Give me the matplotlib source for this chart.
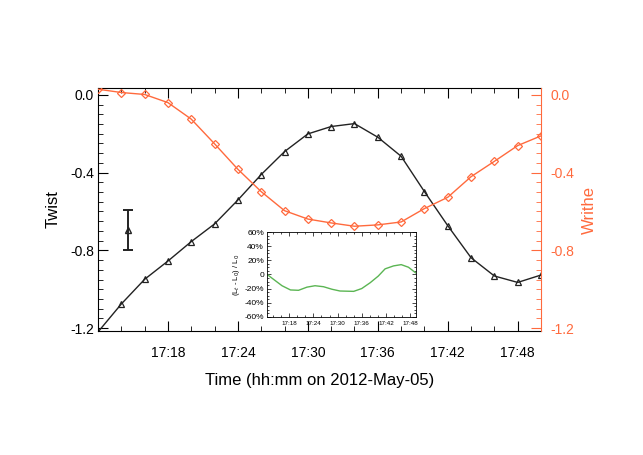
import numpy as np
import matplotlib.pyplot as plt
from matplotlib.ticker import MultipleLocator, FuncFormatter

plt.rcParams['font.family'] = ['Liberation Sans', 'DejaVu Sans']

# tiempos (minutos después de las 17:00), cada 2 minutos
tiempos = [12, 14, 16, 18, 20, 22, 24, 26, 28, 30, 32, 34, 36, 38, 40, 42, 44, 46, 48, 50]
twist = [-1.22, -1.076, -0.949, -0.855, -0.755, -0.664, -0.541, -0.410, -0.292, -0.201,
         -0.163, -0.148, -0.218, -0.316, -0.498, -0.673, -0.838, -0.932, -0.965, -0.927]
writhe = [0.029, 0.012, 0.002, -0.040, -0.125, -0.252, -0.383, -0.498, -0.596, -0.639,
          -0.659, -0.676, -0.669, -0.654, -0.585, -0.527, -0.421, -0.342, -0.261, -0.211]

# barra de error típica
err_t = 14.55
err_v = -0.694
err_e = 0.104

# curva del recuadro: (Lt - L0) / L0 en %
ins_t = [12.5, 16.2, 18.3, 20.3, 22.4, 24.4, 26.5, 28.6, 30.6, 34.0, 36.0, 38.1, 40.1,
         41.8, 43.9, 45.8, 47.6, 49.4]
ins_v = [0, -16, -22, -22.5, -18, -16, -17.4, -21, -23.5, -24, -20, -11.7, -2.3,
         8, 12.2, 14, 10.3, 2.3]

naranja = '#FF6A3D'
verde = '#5BB553'


def hhmm(x, pos=None):
    return "17:%02d" % int(round(x))


fig = plt.figure(figsize=(6.43, 4.55), dpi=100)
ax = fig.add_axes([0.1524, 0.2725, 0.689, 0.534])

ax.plot(tiempos, twist, color='#222222', lw=1, marker='^', ms=5,
        mfc='none', mec='#222222', mew=0.9, clip_on=True)
ax.errorbar([err_t], [err_v], yerr=[err_e], color='#222222', marker='^', ms=5,
            mfc='none', capsize=3.5, elinewidth=1.4, capthick=1.4)

ax.set_xlim(12, 50)
ax.set_ylim(-1.215, 0.035)
ax.xaxis.set_major_locator(MultipleLocator(6))
ax.xaxis.set_minor_locator(MultipleLocator(2))
ax.xaxis.set_major_formatter(FuncFormatter(hhmm))
ax.set_xticks([18, 24, 30, 36, 42, 48])
ax.yaxis.set_major_locator(MultipleLocator(0.4))
ax.yaxis.set_minor_locator(MultipleLocator(0.05))
ax.yaxis.set_major_formatter(FuncFormatter(lambda v, p: "%.1f" % v))
ax.tick_params(which='both', direction='in', top=True, right=False, labelsize=10)
ax.tick_params(axis='x', which='major', length=7, pad=11)
ax.tick_params(axis='y', which='major', length=7, pad=3)
ax.tick_params(which='minor', length=3.5)
ax.spines['right'].set_visible(False)
ax.set_ylabel("Twist", fontsize=12, labelpad=7)
ax.set_xlabel("Time (hh:mm on 2012-May-05)", fontsize=12, labelpad=9)

ax2 = ax.twinx()
ax2.plot(tiempos, writhe, color=naranja, lw=1, marker='D', ms=4,
         mfc='none', mec=naranja, mew=0.9)
ax2.set_ylim(-1.215, 0.035)
ax2.yaxis.set_major_locator(MultipleLocator(0.4))
ax2.yaxis.set_minor_locator(MultipleLocator(0.05))
ax2.yaxis.set_major_formatter(FuncFormatter(lambda v, p: "%.1f" % v))
ax2.tick_params(which='both', direction='in', colors=naranja, labelsize=10)
ax2.tick_params(which='major', length=7, pad=7)
ax2.tick_params(which='minor', length=3.5)
for s in ['left', 'top', 'bottom']:
    ax2.spines[s].set_visible(False)
ax2.spines['right'].set_color(naranja)
ax2.set_ylabel("Writhe", fontsize=12, color=naranja, labelpad=5)

# recuadro
ins = fig.add_axes([0.4148, 0.304, 0.2317, 0.1855])
ins.plot(ins_t, ins_v, color=verde, lw=1)
ins.set_xlim(12.4, 49.4)
ins.set_ylim(-60, 60)
ins.set_xticks([18, 24, 30, 36, 42, 48])
ins.xaxis.set_minor_locator(MultipleLocator(2))
ins.xaxis.set_major_formatter(FuncFormatter(hhmm))
ins.set_yticks([-60, -40, -20, 0, 20, 40, 60])
ins.yaxis.set_minor_locator(MultipleLocator(5))
ins.yaxis.set_major_formatter(FuncFormatter(lambda v, p: "0" if v == 0 else "%d%%" % v))
ins.tick_params(which='both', direction='in', top=True, right=True, width=0.5)
ins.tick_params(axis='x', labelsize=4.5, pad=3)
ins.tick_params(axis='y', labelsize=6, pad=2)
ins.tick_params(which='major', length=3)
ins.tick_params(which='minor', length=1.5)
for s in ins.spines.values():
    s.set_linewidth(0.6)
ins.set_ylabel("(L$_t$ - L$_0$) / L$_0$", fontsize=5.5, labelpad=2)

fig.savefig("out.png", dpi=100)
